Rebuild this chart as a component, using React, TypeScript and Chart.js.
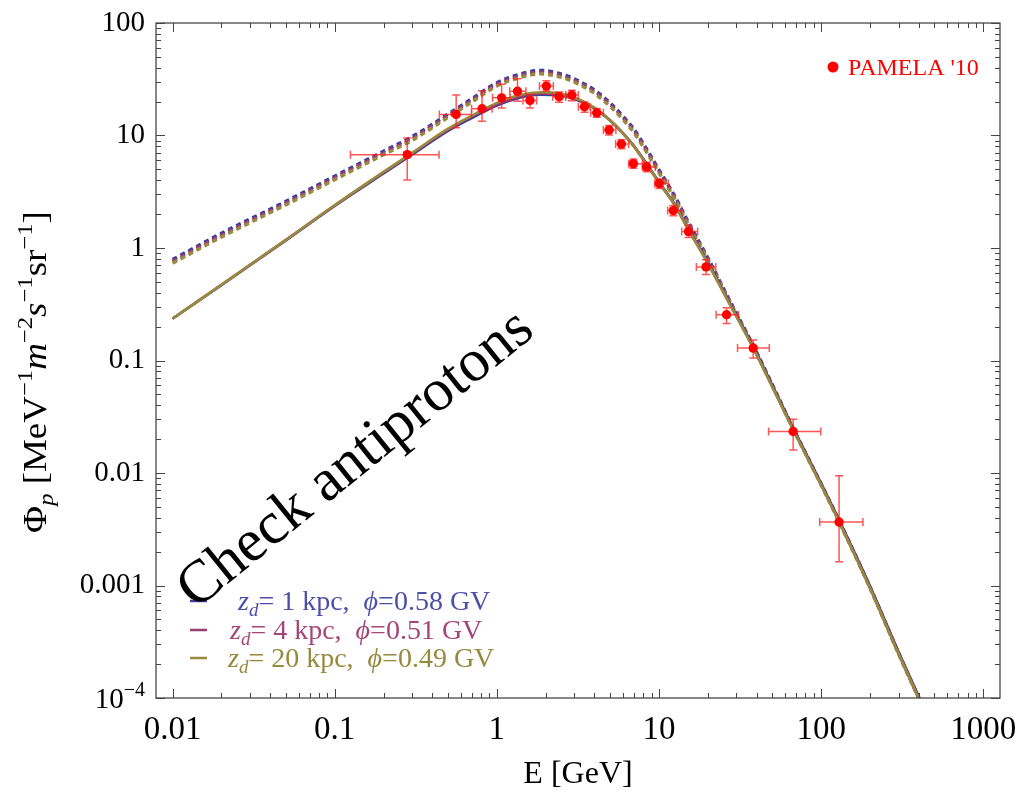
import React, { useEffect, useRef } from 'react';
import { Chart, registerables } from 'chart.js';

Chart.register(...registerables);

// ---------- data ----------
const curveE = [0.01, 0.02, 0.05, 0.1, 0.2, 0.3, 0.5, 0.7, 1.0, 1.4, 1.85, 2.5, 3.2, 4.0, 5.0, 6.0, 7.0, 8.4, 10, 12.5, 15, 20, 26, 38, 50, 67, 100, 130, 200, 300, 450];

const solidOlive = [0.236, 0.47, 1.18, 2.4, 4.75, 7.0, 11.5, 15.0, 19.5, 23.0, 24.2, 23.5, 21.0, 17.6, 13.6, 10.4, 8.0, 5.5, 3.8, 2.4, 1.5, 0.73, 0.36, 0.13, 0.058, 0.0245, 0.0078, 0.0036, 0.00095, 0.000248, 6.8e-5];
const solidPurple = [0.236, 0.47, 1.18, 2.39, 4.7, 6.9, 11.3, 14.7, 19.0, 22.4, 23.6, 23.0, 20.7, 17.5, 13.6, 10.4, 8.0, 5.5, 3.8, 2.4, 1.5, 0.735, 0.362, 0.131, 0.0585, 0.0247, 0.0079, 0.00364, 0.00096, 0.00025, 6.9e-5];
const solidBlue = [0.235, 0.468, 1.17, 2.37, 4.6, 6.75, 11.0, 14.3, 18.5, 21.8, 23.0, 22.6, 20.4, 17.4, 13.6, 10.5, 8.1, 5.6, 3.87, 2.45, 1.53, 0.75, 0.37, 0.134, 0.06, 0.0253, 0.0081, 0.00373, 0.00099, 0.000258, 7.1e-5];

const dottedBlue = [0.79, 1.35, 2.6, 4.35, 7.25, 9.75, 15.5, 21.2, 29.5, 35.2, 37.9, 35.2, 30.5, 25.4, 19.5, 14.8, 11.4, 7.55, 4.95, 2.9, 1.75, 0.82, 0.39, 0.137, 0.061, 0.0253, 0.008, 0.0037, 0.00097, 0.000252, 6.9e-5];
const dottedPurple = [0.76, 1.3, 2.5, 4.2, 7.0, 9.4, 15.0, 20.5, 28.5, 34.0, 36.6, 34.0, 29.5, 24.5, 18.8, 14.3, 11.0, 7.3, 4.8, 2.8, 1.7, 0.8, 0.385, 0.135, 0.06, 0.025, 0.0079, 0.00365, 0.00096, 0.00025, 6.85e-5];
const dottedOlive = [0.733, 1.25, 2.42, 4.05, 6.75, 9.05, 14.5, 19.8, 27.5, 32.8, 35.3, 32.8, 28.5, 23.6, 18.1, 13.8, 10.6, 7.05, 4.65, 2.72, 1.65, 0.78, 0.38, 0.133, 0.0595, 0.0248, 0.0078, 0.0036, 0.00095, 0.000248, 6.8e-5];

const pamE = [0.28, 0.561, 0.81, 1.07, 1.34, 1.60, 2.02, 2.42, 2.90, 3.47, 4.13, 4.92, 5.86, 6.95, 8.40, 10.04, 12.25, 15.2, 19.5, 26.1, 38.1, 67.2, 129];
const pamFlux = [6.76, 15.4, 17.3, 21.6, 24.7, 20.5, 27.5, 22.1, 22.9, 18.0, 15.9, 11.2, 8.41, 5.62, 5.26, 3.74, 2.15, 1.40, 0.679, 0.255, 0.129, 0.0234, 0.00367];
const pamElo = [0.125, 0.442, 0.698, 0.94, 1.2, 1.45, 1.83, 2.21, 2.66, 3.18, 3.79, 4.54, 5.4, 6.5, 7.9, 9.4, 11.3, 13.8, 17.0, 22.5, 30.5, 47.4, 98];
const pamEhi = [0.44, 0.698, 0.935, 1.21, 1.51, 1.76, 2.23, 2.66, 3.18, 3.75, 4.54, 5.42, 6.5, 7.9, 9.5, 11.4, 13.8, 17.3, 22.4, 30.9, 47.9, 99.5, 181];
const pamFlo = [4.03, 11.7, 13.4, 17.6, 20.2, 17.6, 24.8, 19.7, 20.4, 16.1, 14.5, 10.1, 7.64, 5.12, 4.75, 3.38, 1.93, 1.24, 0.58, 0.213, 0.105, 0.016, 0.00163];
const pamFhi = [9.5, 22.9, 25.0, 28.5, 31.9, 23.2, 30.6, 24.4, 25.3, 19.9, 17.4, 12.3, 9.18, 6.19, 5.78, 4.11, 2.39, 1.59, 0.788, 0.294, 0.152, 0.0301, 0.00944];

const xTickVals = [0.01, 0.1, 1, 10, 100, 1000];
const xTickLabels = ['0.01', '0.1', '1', '10', '100', '1000'];
const yTickVals = [1e-4, 0.001, 0.01, 0.1, 1, 10, 100];
const yTickLabels = ['', '0.001', '0.01', '0.1', '1', '10', '100'];

const legendLabels = [
  { d: '= 1 kpc,  ', phi: '=0.58 GV' },
  { d: '= 4 kpc,  ', phi: '=0.51 GV' },
  { d: '= 20 kpc,  ', phi: '=0.49 GV' },
];

// ---------- styles ----------
const BLUE = 'rgb(61,61,153)';
const PURPLE = 'rgb(153,61,113)';
const OLIVE = 'rgb(153,139,61)';
const BLUE_T = 'rgb(78,78,168)';
const PURPLE_T = 'rgb(165,70,120)';
const OLIVE_T = 'rgb(150,136,60)';
const SERIF = '"Liberation Serif", "Times New Roman", Times, serif';

type Seg = { t: string; it?: boolean; sub?: boolean; sup?: boolean };

function segFont(s: Seg, size: number) {
  const sz = s.sub || s.sup ? Math.round(size * 0.68) : size;
  return `${s.it ? 'italic ' : ''}${sz}px ${SERIF}`;
}

function richWidth(ctx: CanvasRenderingContext2D, segs: Seg[], size: number) {
  let w = 0;
  for (const s of segs) {
    ctx.font = segFont(s, size);
    w += ctx.measureText(s.t).width;
  }
  return w;
}

function drawRich(ctx: CanvasRenderingContext2D, segs: Seg[], x: number, y: number, size: number, align: 'left' | 'center' | 'right') {
  const w = richWidth(ctx, segs, size);
  let cx = align === 'center' ? x - w / 2 : align === 'right' ? x - w : x;
  ctx.textAlign = 'left';
  ctx.textBaseline = 'alphabetic';
  for (const s of segs) {
    ctx.font = segFont(s, size);
    const dy = s.sub ? size * 0.22 : s.sup ? -size * 0.42 : 0;
    ctx.fillText(s.t, cx, y + dy);
    cx += ctx.measureText(s.t).width;
  }
}

const pts = (ys: number[]) => curveE.map((x, i) => ({ x, y: ys[i] }));

const errorBarPlugin = {
  id: 'errorBars',
  beforeDatasetDraw(chart: any, args: any) {
    if (args.index !== 0) return;
    const { ctx, chartArea } = chart;
    const xs = chart.scales.x;
    const ys = chart.scales.y;
    ctx.save();
    ctx.beginPath();
    ctx.rect(chartArea.left, chartArea.top, chartArea.right - chartArea.left, chartArea.bottom - chartArea.top);
    ctx.clip();
    ctx.strokeStyle = 'rgba(255,30,30,0.75)';
    ctx.lineWidth = 1.5;
    const cap = 4;
    for (let i = 0; i < pamE.length; i++) {
      const px = xs.getPixelForValue(pamE[i]);
      const py = ys.getPixelForValue(pamFlux[i]);
      const x0 = xs.getPixelForValue(pamElo[i]);
      const x1 = xs.getPixelForValue(pamEhi[i]);
      const y0 = ys.getPixelForValue(pamFlo[i]);
      const y1 = ys.getPixelForValue(pamFhi[i]);
      ctx.beginPath();
      ctx.moveTo(x0, py); ctx.lineTo(x1, py);
      ctx.moveTo(x0, py - cap); ctx.lineTo(x0, py + cap);
      ctx.moveTo(x1, py - cap); ctx.lineTo(x1, py + cap);
      ctx.moveTo(px, y0); ctx.lineTo(px, y1);
      ctx.moveTo(px - cap, y0); ctx.lineTo(px + cap, y0);
      ctx.moveTo(px - cap, y1); ctx.lineTo(px + cap, y1);
      ctx.stroke();
    }
    ctx.restore();
  },
};

const framePlugin = {
  id: 'frame',
  afterDatasetsDraw(chart: any) {
    const { ctx, chartArea: a } = chart;
    const xs = chart.scales.x;
    const ys = chart.scales.y;
    ctx.save();
    ctx.strokeStyle = '#3a3a3a';
    ctx.lineWidth = 1.2;
    ctx.strokeRect(a.left, a.top, a.right - a.left, a.bottom - a.top);
    ctx.strokeStyle = '#444';
    ctx.lineWidth = 1;
    const major = 9;
    const minor = 5;
    ctx.beginPath();
    for (const d of xTickVals) {
      for (let m = 1; m <= 9; m++) {
        const v = d * m;
        if (v < xs.min || v > xs.max) continue;
        const p = Math.round(xs.getPixelForValue(v)) + 0.5;
        const L = m === 1 ? major : minor;
        ctx.moveTo(p, a.bottom); ctx.lineTo(p, a.bottom - L);
        ctx.moveTo(p, a.top); ctx.lineTo(p, a.top + L);
      }
    }
    for (const d of yTickVals) {
      for (let m = 1; m <= 9; m++) {
        const v = d * m;
        if (v < ys.min || v > ys.max * 1.0001) continue;
        const p = Math.round(ys.getPixelForValue(v)) + 0.5;
        const L = m === 1 ? major : minor;
        ctx.moveTo(a.left, p); ctx.lineTo(a.left + L, p);
        ctx.moveTo(a.right, p); ctx.lineTo(a.right - L, p);
      }
    }
    ctx.stroke();
    ctx.restore();
  },
};

const textPlugin = {
  id: 'texts',
  afterDraw(chart: any) {
    const { ctx, chartArea: a } = chart;
    const ys = chart.scales.y;
    ctx.save();
    ctx.fillStyle = '#000';

    // 10^-4 tick label
    const p4 = ys.getPixelForValue(1e-4);
    drawRich(ctx, [{ t: '10' }, { t: '\u22124', sup: true }], a.left - 11, p4 + 10, 29, 'right');

    // x axis title
    ctx.font = `32px ${SERIF}`;
    ctx.textAlign = 'center';
    ctx.textBaseline = 'alphabetic';
    ctx.fillText('E [GeV]', (a.left + a.right) / 2, 783);

    // y axis title (slightly elongated along its baseline)
    ctx.save();
    ctx.translate(46, 372);
    ctx.rotate(-Math.PI / 2);
    ctx.scale(1.12, 1);
    drawRich(ctx, [
      { t: '\u03A6' }, { t: 'p', it: true, sub: true }, { t: ' [MeV' }, { t: '\u22121', sup: true },
      { t: 'm', it: true }, { t: '\u22122', sup: true }, { t: 's', it: true }, { t: '\u22121', sup: true },
      { t: 'sr' }, { t: '\u22121', sup: true }, { t: ']' },
    ], 0, 0, 33, 'center');
    ctx.restore();

    // PAMELA legend
    ctx.fillStyle = '#ff0000';
    ctx.beginPath();
    ctx.arc(833, 67, 5.5, 0, Math.PI * 2);
    ctx.fill();
    ctx.font = `24px ${SERIF}`;
    ctx.textAlign = 'left';
    ctx.textBaseline = 'alphabetic';
    ctx.fillText("PAMELA '10", 848, 75);

    // curve legend
    const rows = [
      { c: BLUE, tc: BLUE_T, y: 601, tx: 238 },
      { c: PURPLE, tc: PURPLE_T, y: 630, tx: 230 },
      { c: OLIVE, tc: OLIVE_T, y: 658, tx: 228 },
    ];
    rows.forEach((r, i) => {
      ctx.strokeStyle = r.c;
      ctx.lineWidth = 2.5;
      ctx.beginPath();
      ctx.moveTo(190, r.y);
      ctx.lineTo(207, r.y);
      ctx.stroke();
      ctx.fillStyle = r.tc;
      drawRich(ctx, [
        { t: 'z', it: true }, { t: 'd', it: true, sub: true }, { t: legendLabels[i].d },
        { t: '\u03D5', it: true }, { t: legendLabels[i].phi },
      ], r.tx, r.y + 9, 28, 'left');
    });

    // Check antiprotons
    ctx.save();
    ctx.translate(366, 472);
    ctx.rotate(-39 * Math.PI / 180);
    ctx.fillStyle = '#000';
    ctx.font = `60px ${SERIF}`;
    ctx.textAlign = 'center';
    ctx.textBaseline = 'alphabetic';
    ctx.fillText('Check antiprotons', 0, 0);
    ctx.restore();

    ctx.restore();
  },
};

export default function App() {
  const ref = useRef<HTMLCanvasElement>(null);
  useEffect(() => {
    const canvas = ref.current;
    if (!canvas) return;
    const solid = (data: number[], color: string) => ({
      data: pts(data),
      showLine: true,
      borderColor: color,
      backgroundColor: color,
      borderWidth: 2.6,
      pointRadius: 0,
      cubicInterpolationMode: 'monotone' as const,
      fill: false,
    });
    const dotted = (data: number[], color: string) => ({
      data: pts(data),
      showLine: true,
      borderColor: color,
      backgroundColor: color,
      borderWidth: 3.4,
      borderDash: [5, 4],
      borderCapStyle: 'butt' as const,
      pointRadius: 0,
      cubicInterpolationMode: 'monotone' as const,
      fill: false,
    });
    const chart = new Chart(canvas, {
      type: 'scatter',
      data: {
        datasets: [
          {
            data: pamE.map((x, i) => ({ x, y: pamFlux[i] })),
            showLine: false,
            pointRadius: 4.7,
            pointBackgroundColor: '#ff0000',
            pointBorderWidth: 0,
            borderColor: '#ff0000',
            backgroundColor: '#ff0000',
          },
          solid(solidOlive, OLIVE),
          solid(solidPurple, PURPLE),
          solid(solidBlue, BLUE),
          dotted(dottedOlive, OLIVE),
          dotted(dottedPurple, PURPLE),
          dotted(dottedBlue, BLUE),
        ] as any,
      },
      options: {
        responsive: false,
        animation: false,
        devicePixelRatio: 1,
        events: [],
        layout: { padding: { top: 23, right: 18, left: 0, bottom: 0 } },
        plugins: { legend: { display: false }, tooltip: { enabled: false }, title: { display: false } },
        scales: {
          x: {
            type: 'logarithmic',
            min: 0.0079,
            max: 1268,
            grid: { display: false, drawTicks: false },
            border: { display: false },
            afterBuildTicks: (s: any) => { s.ticks = xTickVals.map((v) => ({ value: v })); },
            afterFit: (s: any) => { s.height = 95; s.paddingLeft = 0; s.paddingRight = 0; },
            ticks: {
              autoSkip: false,
              maxRotation: 0,
              padding: 13,
              color: '#000',
              font: { family: SERIF, size: 33 },
              callback: (v: any) => { const i = xTickVals.indexOf(Number(v)); return i >= 0 ? xTickLabels[i] : ''; },
            },
          },
          y: {
            type: 'logarithmic',
            min: 1e-4,
            max: 100,
            grid: { display: false, drawTicks: false },
            border: { display: false },
            afterBuildTicks: (s: any) => { s.ticks = yTickVals.map((v) => ({ value: v })); },
            afterFit: (s: any) => { s.width = 156; s.paddingTop = 0; s.paddingBottom = 0; },
            ticks: {
              autoSkip: false,
              padding: 11,
              color: '#000',
              font: { family: SERIF, size: 29 },
              callback: (v: any) => { const i = yTickVals.indexOf(Number(v)); return i >= 0 ? yTickLabels[i] : ''; },
            },
          },
        },
      } as any,
      plugins: [errorBarPlugin, framePlugin, textPlugin],
    });
    return () => chart.destroy();
  }, []);
  return (
    <div style={{ position: 'fixed', left: 0, top: 0, width: 1018, height: 793, background: '#fff' }}>
      <canvas ref={ref} width={1018} height={793} style={{ display: 'block', width: 1018, height: 793 }} />
    </div>
  );
}
